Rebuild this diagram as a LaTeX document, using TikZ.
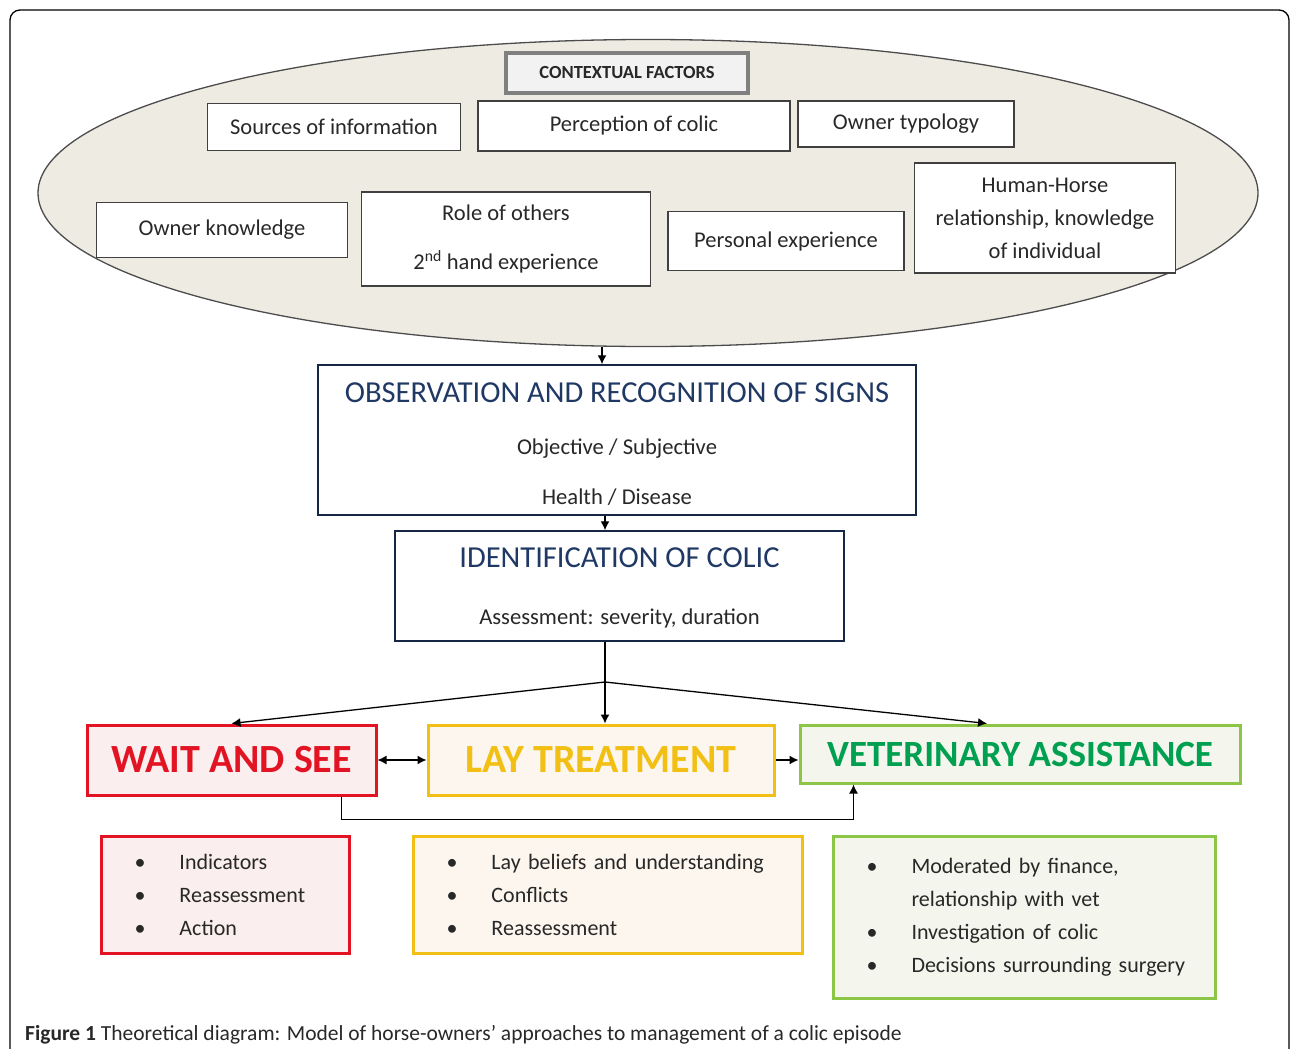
\documentclass[tikz,border=0pt]{standalone}
\usepackage{fontspec}
\setmainfont{Carlito}
\usepackage{tikz}
\usetikzlibrary{arrows.meta, shapes.geometric, positioning, calc}

\definecolor{ctxfill}{RGB}{238,235,226}
\definecolor{navy}{RGB}{31,56,100}
\definecolor{waitred}{RGB}{226,20,35}
\definecolor{waitfill}{RGB}{250,238,238}
\definecolor{layyellow}{RGB}{242,192,20}
\definecolor{layfill}{RGB}{252,246,238}
\definecolor{vetgreen}{RGB}{0,160,80}
\definecolor{vetline}{RGB}{140,198,70}
\definecolor{vetfill}{RGB}{244,246,238}
\definecolor{ink}{RGB}{40,40,40}

\newcommand{\bul}{\makebox[45pt][l]{\textbullet}}
\newcommand{\nobul}{\hspace*{45pt}}

\begin{document}
\begin{tikzpicture}[x=1pt, y=-1pt,
    factor/.style={draw=black!75, line width=1.3pt, fill=white, text=ink,
        font=\fontsize{22.5}{33}\selectfont, align=center, inner sep=0pt},
    stage/.style={draw=navy!70!black, line width=1.5pt, fill=white, inner sep=0pt},
    ttl/.style={text=navy, font=\fontsize{30.5}{30.5}\selectfont},
    sub/.style={text=ink, font=\fontsize{22.6}{22.6}\selectfont},
    choice/.style={line width=3pt, inner sep=0pt, font=\fontsize{40}{40}\selectfont\bfseries},
    bullets/.style={line width=3pt, inner sep=0pt, anchor=north west, text=ink,
        align=left, font=\fontsize{22}{33}\selectfont},
    arr/.style={-{Latex[length=9pt,width=9pt]}, line width=1.3pt},
    arrr/.style={{Latex[length=9pt,width=9pt]}-{Latex[length=9pt,width=9pt]}, line width=1.3pt}]

    \useasboundingbox (0,0) rectangle (1290,1049);

    % Cadre de la figure
    \draw[line width=1.3pt, rounded corners=10pt] (10,1060) -- (10,10) -- (1289,10) -- (1289,1060);

    % Ellipse des facteurs contextuels
    \node[ellipse, draw=black!70, line width=1.3pt, fill=ctxfill,
        minimum width=1220, minimum height=307] (ctx) at (648,193) {};
    \node[draw=gray, line width=4.5pt, fill=gray!10, minimum width=242, minimum height=40,
        font=\fontsize{18.5}{18.5}\selectfont\bfseries, text=ink] (ctxttl) at (627,73) {CONTEXTUAL FACTORS};

    % Facteurs
    \node[factor, minimum width=253, minimum height=47] (src) at (334,127) {Sources of information};
    \node[factor, minimum width=312, minimum height=50] (perc) at (634,126) {Perception of colic};
    \node[factor, minimum width=216, minimum height=46] (typo) at (906,124) {Owner typology};
    \node[factor, minimum width=251, minimum height=55] (know) at (222,230) {Owner knowledge};
    \node[factor, minimum width=289, minimum height=94, font=\fontsize{22.5}{49}\selectfont] (others) at (506,239)
        {Role of others\\2\textsuperscript{nd} hand experience};
    \node[factor, minimum width=236, minimum height=59] (pers) at (786,241) {Personal experience};
    \node[factor, minimum width=261, minimum height=110] (hh) at (1045,218)
        {Human-Horse\\relationship, knowledge\\of individual};

    % Observation et identification
    \node[stage, minimum width=598, minimum height=150] (obs) at (617,440) {};
    \node[ttl] (obsttl) at (617,393) {OBSERVATION AND RECOGNITION OF SIGNS};
    \node[sub] (obs1) at (617,449) {Objective / Subjective};
    \node[sub] (obs2) at (617,497) {Health / Disease};

    \node[stage, minimum width=449, minimum height=110] (ident) at (619.5,586) {};
    \node[ttl] (identttl) at (619.5,558) {IDENTIFICATION OF COLIC};
    \node[sub] (ident1) at (619.5,618) {Assessment: severity, duration};

    % Trois approches
    \node[choice, draw=waitred, fill=waitfill, text=waitred, minimum width=289, minimum height=70] (wait) at (231.5,760) {WAIT AND SEE};
    \node[choice, draw=layyellow, fill=layfill, text=layyellow, minimum width=346, minimum height=70] (lay) at (601,760) {LAY TREATMENT};
    \node[choice, draw=vetline, fill=vetfill, text=vetgreen, minimum width=440, minimum height=58,
        font=\fontsize{37}{37}\selectfont\bfseries] (vet) at (1020,754) {VETERINARY ASSISTANCE};

    % Listes
    \node[bullets, draw=waitred, fill=waitfill, minimum width=248, minimum height=117, text width=248] (waitlist) at (100,835)
        {\hspace*{33pt}\bul Indicators\\\hspace*{33pt}\bul Reassessment\\\hspace*{33pt}\bul Action};
    \node[bullets, draw=layyellow, fill=layfill, minimum width=389, minimum height=117, text width=389] (laylist) at (412,835)
        {\hspace*{33pt}\bul Lay beliefs and understanding\\\hspace*{33pt}\bul Conflicts\\\hspace*{33pt}\bul Reassessment};
    \node[bullets, draw=vetline, fill=vetfill, minimum width=382, minimum height=162, text width=382] (vetlist) at (832,835)
        {\hspace*{33pt}\bul Moderated by finance,\\\hspace*{33pt}\nobul relationship with vet\\\hspace*{33pt}\bul Investigation of colic\\\hspace*{33pt}\bul Decisions surrounding surgery};

    % Connecteurs
    \coordinate (split) at (605,682);
    \draw[arr] ([xshift=-15pt]obs.north |- ctx.south) -- ([xshift=-15pt]obs.north);
    \draw[arr] ([xshift=-14.5pt]ident.north |- obs.south) -- ([xshift=-14.5pt]ident.north);
    \draw[line width=1.3pt] ([xshift=-14.5pt]ident.south) -- (split);
    \draw[arr] (split) -- (wait.north);
    \draw[arr] (split) -- (lay.north -| split);
    \draw[arr] (split) -- ([xshift=-33pt]vet.north);
    \draw[arrr] (wait.east) -- (lay.west);
    \draw[arr] (lay.east) -- (lay.east -| vet.west);
    \draw[arr] ([xshift=-36pt]wait.south east) -- ++(0,23) -| ([xshift=55pt]vet.south west);

    % Légende
    \node[anchor=base west, text=ink, font=\fontsize{21.5}{21.5}\selectfont, inner sep=0pt] (cap) at (25,1040)
        {\textbf{Figure 1} Theoretical diagram: Model of horse-owners’ approaches to management of a colic episode};

\end{tikzpicture}
\end{document}
